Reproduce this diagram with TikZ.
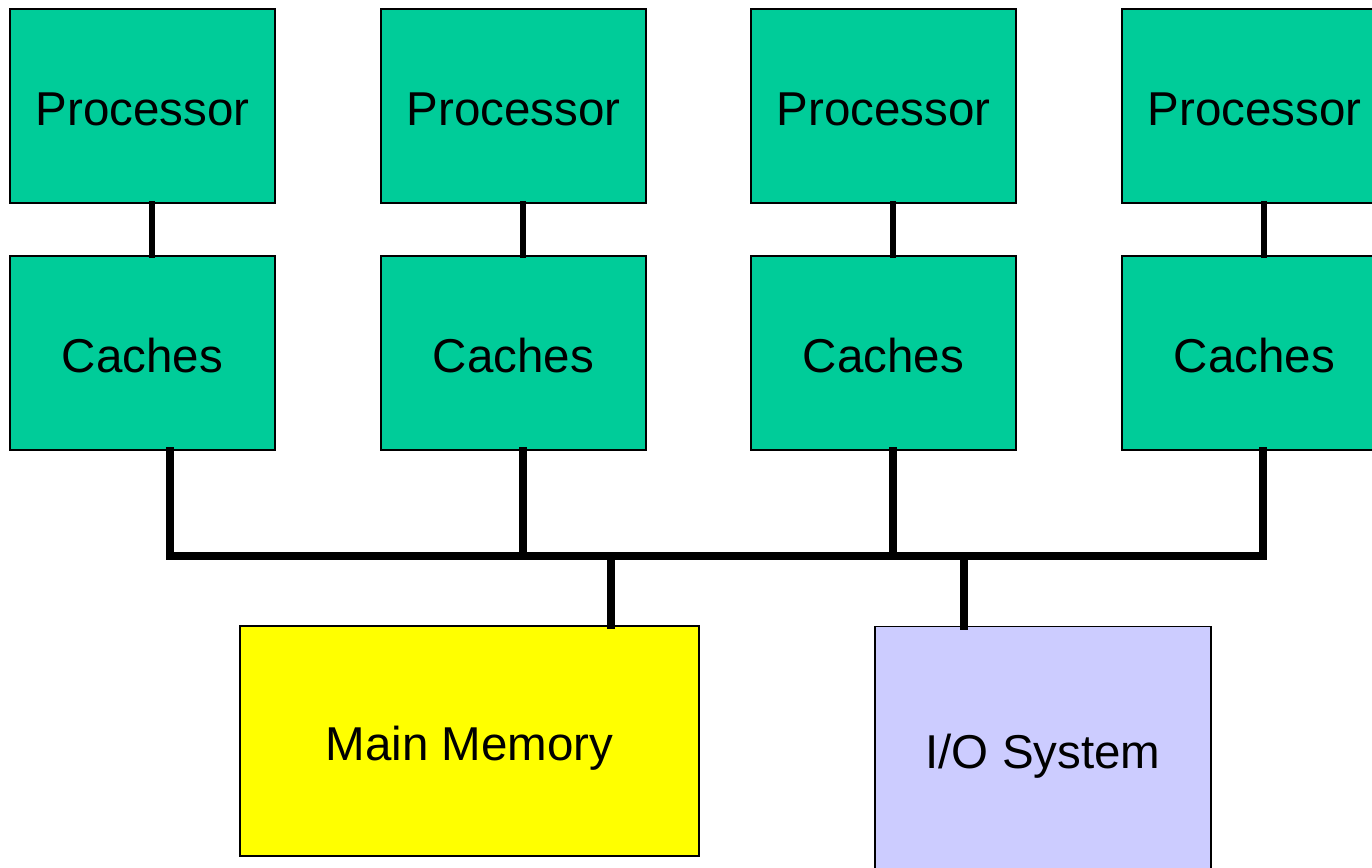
\documentclass[tikz,border=0pt]{standalone}
\usepackage{fontspec}
\setmainfont{Liberation Sans}
\definecolor{procgreen}{HTML}{00CC99}
\definecolor{memyellow}{HTML}{FFFF00}
\definecolor{iolav}{HTML}{CCCCFF}
\tikzset{
  box/.style={draw=black, line width=1.8pt, inner sep=0pt, text height=44pt, text depth=5pt, font=\fontsize{47.5}{56}\selectfont},
  unitbox/.style={box, fill=procgreen, minimum width=265pt, minimum height=194pt},
  link/.style={line width=6pt, line cap=rect},
  busline/.style={line width=8pt, line cap=rect, line join=miter}
}
\begin{document}
\begin{tikzpicture}[x=1pt,y=-1pt]
\useasboundingbox (0,0) rectangle (1372,867);
\clip (0,0) rectangle (1372,867);
% processors
\node[unitbox] (p1) at (142.5,106) {Processor};
\node[unitbox] (p2) at (513.5,106) {Processor};
\node[unitbox] (p3) at (883.5,106) {Processor};
\node[unitbox] (p4) at (1254.5,106) {Processor};
% caches
\node[unitbox] (c1) at (142.5,353) {Caches};
\node[unitbox] (c2) at (513.5,353) {Caches};
\node[unitbox] (c3) at (883.5,353) {Caches};
\node[unitbox] (c4) at (1254.5,353) {Caches};
% memory and I/O
\node[box, fill=memyellow, minimum width=459pt, minimum height=230pt] (mem) at (469.5,741) {Main Memory};
\node[box, fill=iolav, minimum width=336pt, minimum height=244pt] (io) at (1043,748.5) {I/O System};
% processor-cache links
\draw[link] ([xshift=9.5pt]p1.south) -- ([xshift=9.5pt]c1.north);
\draw[link] ([xshift=9pt]p2.south) -- ([xshift=9pt]c2.north);
\draw[link] ([xshift=9.5pt]p3.south) -- ([xshift=9.5pt]c3.north);
\draw[link] ([xshift=9pt]p4.south) -- ([xshift=9pt]c4.north);
% bus
\coordinate (b1) at (169.5,556);
\coordinate (b2) at (522.5,556);
\coordinate (b3) at (893,556);
\coordinate (b4) at (1263,556);
\coordinate (bm) at (610.5,556);
\coordinate (bio) at (963.5,556);
\draw[busline] ([xshift=27pt]c1.south) -- (b1) -- (b4) -- ([xshift=8.5pt]c4.south);
\draw[busline] ([xshift=9pt]c2.south) -- (b2);
\draw[busline] ([xshift=9.5pt]c3.south) -- (b3);
\draw[busline] (bm) -- ([xshift=141pt]mem.north);
\draw[busline] (bio) -- ([xshift=-79.5pt]io.north);
\end{tikzpicture}
\end{document}
